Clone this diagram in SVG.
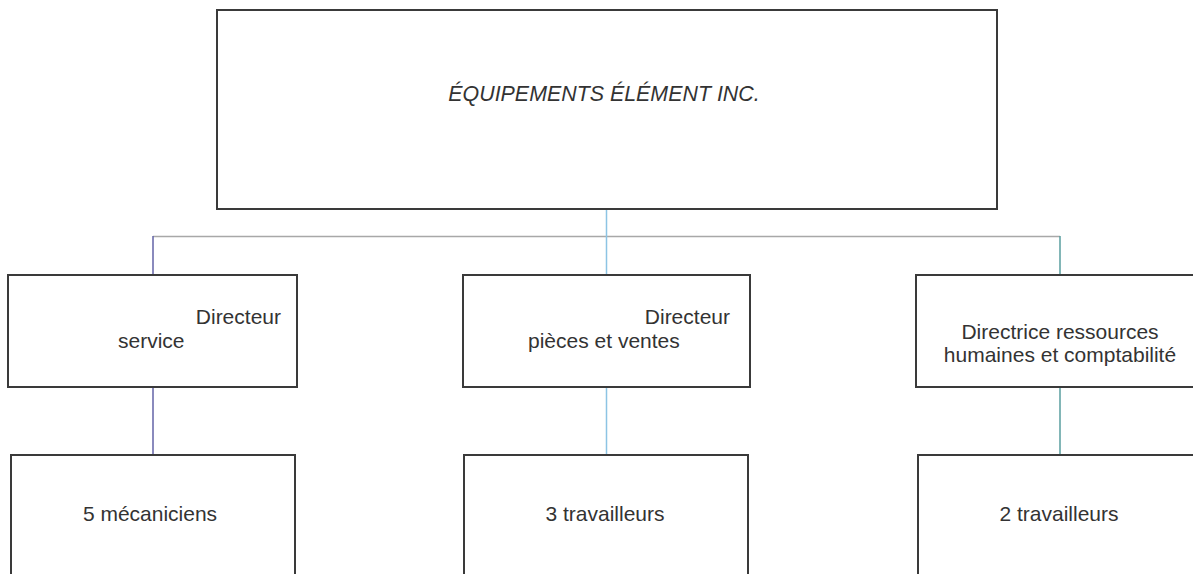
<svg xmlns="http://www.w3.org/2000/svg" width="1193" height="574" viewBox="0 0 1193 574">
<style>
.box{fill:#fff;stroke:#3a3a3a;stroke-width:2}
.t{font-family:"Liberation Sans",Arial,sans-serif;font-size:21px;fill:#333}
.c{fill:none;stroke-width:1.5}
</style>
<rect width="1193" height="574" fill="#fff"/>
<g id="connectors">
<path class="c" d="M153 236.5H1060" stroke="#a8a8a8"/>
<path class="c" d="M153 236V275M153 387V455" stroke="#6464a8"/>
<path class="c" d="M606.5 209V275M606.5 387V455" stroke="#8cc4e4" stroke-width="3"/>
<path class="c" d="M1060 236V275M1060 387V455" stroke="#5a9ea0"/>
</g>
<g id="top">
<rect class="box" x="217" y="10" width="780" height="199"/>
<text class="t" x="604" y="101" text-anchor="middle" font-style="italic" style="font-size:21.4px">ÉQUIPEMENTS ÉLÉMENT INC.</text>
</g>
<g id="dir-service">
<rect class="box" x="8" y="275" width="289" height="112"/>
<text class="t" x="281" y="324" text-anchor="end">Directeur</text>
<text class="t" x="118" y="348">service</text>
</g>
<g id="dir-pieces">
<rect class="box" x="463" y="275" width="287" height="112"/>
<text class="t" x="730" y="324" text-anchor="end">Directeur</text>
<text class="t" x="528" y="348">pièces et ventes</text>
</g>
<g id="dir-rh">
<rect class="box" x="916" y="275" width="290" height="112"/>
<text class="t" x="1060" y="339" text-anchor="middle">Directrice ressources</text>
<text class="t" x="1060" y="362" text-anchor="middle">humaines et comptabilité</text>
</g>
<g id="mecaniciens">
<rect class="box" x="11" y="455" width="284" height="140"/>
<text class="t" x="150" y="521" text-anchor="middle">5 mécaniciens</text>
</g>
<g id="travailleurs3">
<rect class="box" x="464" y="455" width="284" height="140"/>
<text class="t" x="605" y="521" text-anchor="middle">3 travailleurs</text>
</g>
<g id="travailleurs2">
<rect class="box" x="918" y="455" width="290" height="140"/>
<text class="t" x="1059" y="521" text-anchor="middle">2 travailleurs</text>
</g>
</svg>
